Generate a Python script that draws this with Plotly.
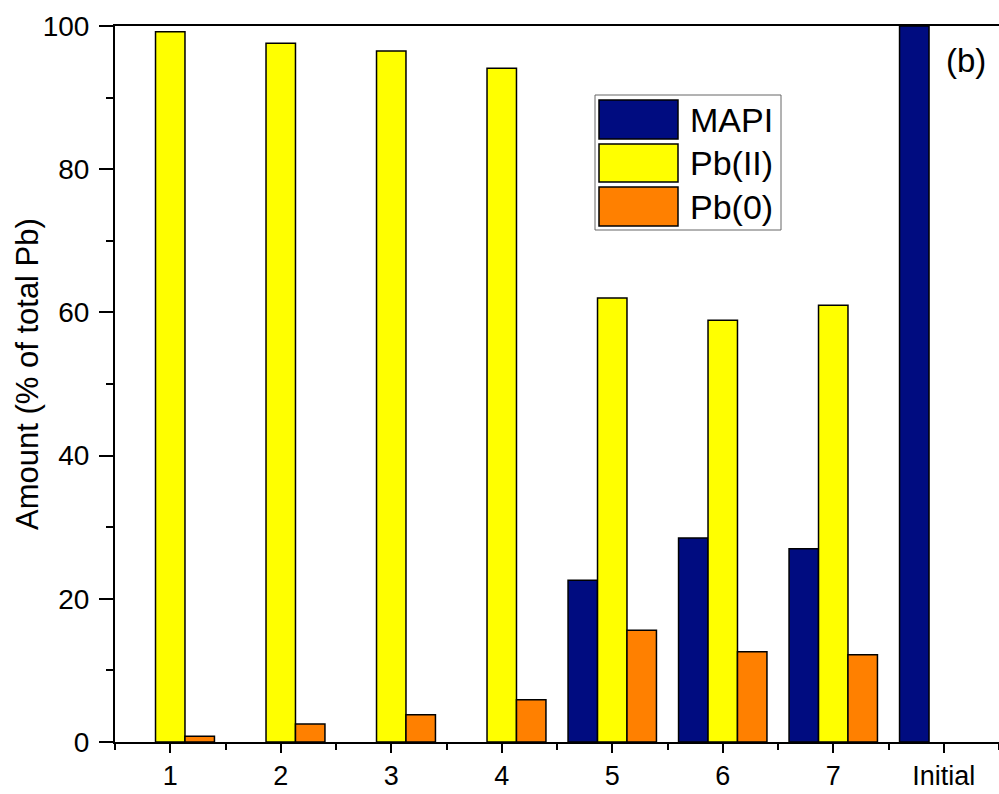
import plotly.graph_objects as go

categories = ["1", "2", "3", "4", "5", "6", "7", "Initial"]
positions = [1, 2, 3, 4, 5, 6, 7, 8]
mapi = [None, None, None, None, 22.6, 28.5, 27.0, 100.0]
pb_ii = [99.2, 97.6, 96.5, 94.1, 62.0, 58.9, 61.0, None]
pb_0 = [0.8, 2.5, 3.8, 5.9, 15.6, 12.6, 12.2, None]

series = [("MAPI", mapi, "#000C80"), ("Pb(II)", pb_ii, "#FFFF00"), ("Pb(0)", pb_0, "#FF8000")]

FONT = "Liberation Sans"
L, T, PW, PH = 115, 26, 884, 716

fig = go.Figure()
for name, vals, col in series:
    fig.add_trace(go.Bar(x=positions, y=vals, name=name, marker=dict(color=col, line=dict(color="black", width=1.5)),
                         showlegend=False))

fig.update_layout(
    width=999, height=794,
    margin=dict(l=L, r=0, t=T, b=52),
    plot_bgcolor="white", paper_bgcolor="white",
    barmode="group", bargap=0.2, bargroupgap=0,
    font=dict(family=FONT, color="black", size=28),
)
fig.update_xaxes(
    range=[0.5, 8.5], tickvals=positions, ticktext=categories,
    showgrid=False, zeroline=False, showline=True, linecolor="black", linewidth=2, mirror=True,
    ticks="outside", ticklen=9, tickwidth=2, tickcolor="black", ticklabelstandoff=0,
    minor=dict(tickvals=[0.5, 1.5, 2.5, 3.5, 4.5, 5.5, 6.5, 7.5, 8.5], ticks="outside", ticklen=6, tickwidth=2, tickcolor="black"),
    tickfont=dict(size=27, family=FONT), automargin=False,
)
fig.update_yaxes(
    range=[0, 100], tickvals=[0, 20, 40, 60, 80, 100],
    showgrid=False, zeroline=False, showline=True, linecolor="black", linewidth=2, mirror=True,
    ticks="outside", ticklen=14, tickwidth=2, tickcolor="black", ticklabelstandoff=4,
    minor=dict(tickvals=[10, 30, 50, 70, 90], ticks="outside", ticklen=7, tickwidth=2, tickcolor="black"),
    tickfont=dict(size=28, family=FONT), automargin=False,
)

fig.add_annotation(xref="paper", yref="paper", x=(27 - L) / PW, y=(742 - 374) / PH,
                   text="Amount (% of total Pb)", textangle=-90, showarrow=False,
                   xanchor="center", yanchor="middle", font=dict(size=31, family=FONT, color="black"))

# legend drawn manually
fig.add_shape(type="rect", xref="paper", yref="paper",
              x0=(595 - L) / PW, x1=(781 - L) / PW,
              y0=(742 - 230) / PH, y1=(742 - 95) / PH,
              line=dict(color="#666666", width=1), fillcolor="white", layer="above")
rows = [(100, 139), (144, 182), (187, 226)]
for (name, vals, col), (ytop, ybot) in zip(series, rows):
    fig.add_shape(type="rect", xref="paper", yref="paper",
                  x0=(599 - L) / PW, x1=(678 - L) / PW,
                  y0=(742 - ybot) / PH, y1=(742 - ytop) / PH,
                  line=dict(color="black", width=1.5), fillcolor=col, layer="above")
    fig.add_annotation(xref="paper", yref="paper", x=(688 - L) / PW, y=(742 - (ytop + ybot) / 2) / PH,
                       text=name, showarrow=False, xanchor="left", yanchor="middle",
                       font=dict(size=34, family=FONT, color="black"))

fig.add_annotation(xref="paper", yref="paper", x=(944 - L) / PW, y=(742 - 61) / PH,
                   text="(b)", showarrow=False, xanchor="left", yanchor="middle",
                   font=dict(size=33, family=FONT, color="black"))

fig.write_html("out.html", config={"displayModeBar": False},
               post_script="document.body.style.margin='0';document.body.style.overflow='hidden';")
